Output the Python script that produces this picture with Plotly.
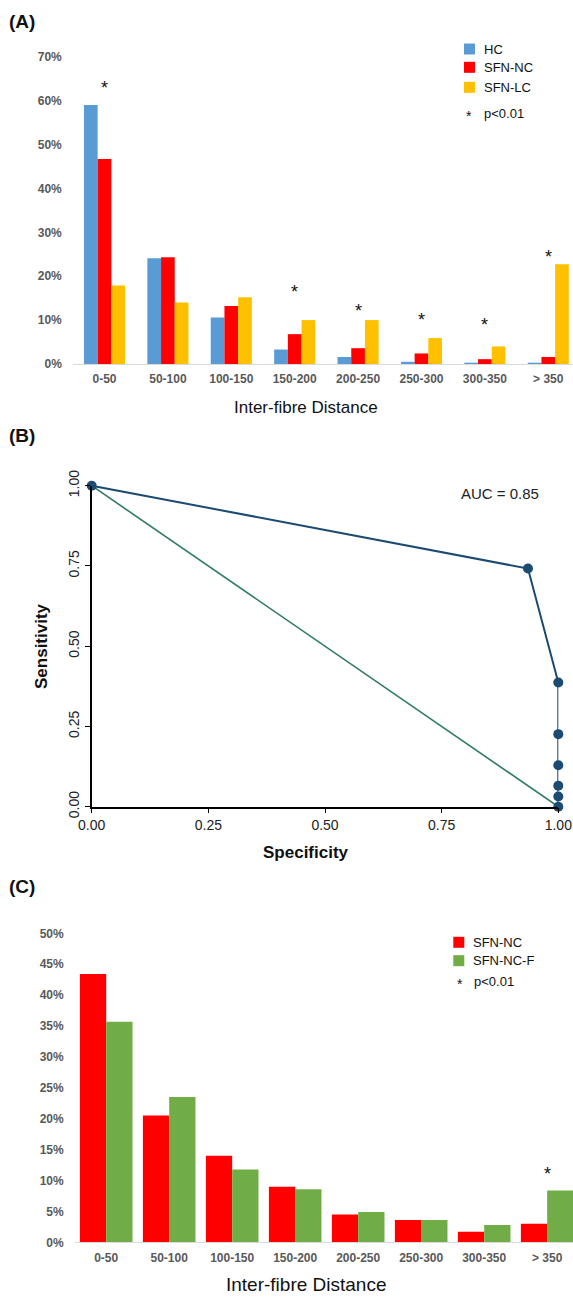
import plotly.graph_objects as go

# ---------------- data ----------------
dist_cats = ["0-50", "50-100", "100-150", "150-200", "200-250", "250-300", "300-350", "> 350"]

a_hc = [0.590, 0.241, 0.106, 0.033, 0.016, 0.005, 0.003, 0.0015]
a_sfn_nc = [0.467, 0.243, 0.132, 0.068, 0.036, 0.024, 0.011, 0.016]
a_sfn_lc = [0.179, 0.140, 0.152, 0.100, 0.100, 0.059, 0.040, 0.227]
a_star_y = [0.641, None, None, 0.175, 0.133, 0.111, 0.100, 0.255]

roc_spec = [0.0, 0.935, 1.0, 1.0, 1.0, 1.0, 1.0, 1.0]
roc_sens = [1.0, 0.742, 0.387, 0.226, 0.129, 0.065, 0.032, 0.0]
ref_spec = [0.0, 1.0]
ref_sens = [1.0, 0.0]
auc_text = "AUC = 0.85"

c_sfn_nc = [0.434, 0.205, 0.140, 0.090, 0.045, 0.036, 0.017, 0.030]
c_sfn_nc_f = [0.357, 0.235, 0.118, 0.086, 0.049, 0.036, 0.028, 0.084]
c_star_y = [None, None, None, None, None, None, None, 0.119]

# ---------------- helpers ----------------
W, H = 573, 1297
def xp(px):
    return px / W
def yp(py):
    return 1 - py / H

FONT = "Arial, Liberation Sans, sans-serif"
GRAY = "#595959"
BLUE = "#5B9BD5"
RED = "#FF0000"
GOLD = "#FFC000"
GREEN = "#70AD47"
NAVY = "#1B4A72"
TEAL = "#2E7A68"

fig = go.Figure()

# Panel A bars
bw_a = 0.216
for vals, name, col, off in [(a_hc, "HC", BLUE, -1.5 * bw_a),
                             (a_sfn_nc, "SFN-NC", RED, -0.5 * bw_a),
                             (a_sfn_lc, "SFN-LC", GOLD, 0.5 * bw_a)]:
    fig.add_trace(go.Bar(x=dist_cats, y=vals, name=name, marker_color=col,
                         width=bw_a, offset=off, xaxis="x", yaxis="y",
                         showlegend=False))

# Panel B ROC
fig.add_trace(go.Scatter(x=ref_spec, y=ref_sens, mode="lines",
                         line=dict(color=TEAL, width=1.6), xaxis="x2", yaxis="y2",
                         showlegend=False, cliponaxis=False))
fig.add_trace(go.Scatter(x=roc_spec, y=roc_sens, mode="lines+markers",
                         line=dict(color=NAVY, width=2),
                         marker=dict(color=NAVY, size=10),
                         xaxis="x2", yaxis="y2", showlegend=False, cliponaxis=False))

# Panel C bars
bw_c = 0.4175
for vals, name, col, off in [(c_sfn_nc, "SFN-NC", RED, -bw_c),
                             (c_sfn_nc_f, "SFN-NC-F", GREEN, 0.0)]:
    fig.add_trace(go.Bar(x=dist_cats, y=vals, name=name, marker_color=col,
                         width=bw_c, offset=off, xaxis="x3", yaxis="y3",
                         showlegend=False))

tickfont_bar = dict(family=FONT, size=12, color=GRAY, weight="bold")
tickfont_roc = dict(family=FONT, size=14, color="#222222")

fig.update_layout(
    template="none",
    width=W, height=H, autosize=False,
    margin=dict(l=0, r=0, t=0, b=0, pad=0, autoexpand=False),
    paper_bgcolor="white", plot_bgcolor="white",
    barmode="overlay",
    font=dict(family=FONT),
    xaxis=dict(domain=[xp(72.8), 1], range=[-0.5, 7.39], type="category",
               automargin=False,
               showgrid=False, showline=True, linecolor="#d9d9d9", linewidth=1,
               ticks="", tickfont=tickfont_bar, ticklabelstandoff=4, anchor="y"),
    yaxis=dict(domain=[yp(364), yp(56.7)], range=[0, 0.70], dtick=0.1,
               automargin=False,
               tickformat=".0%", showgrid=False, zeroline=False, ticks="",
               tickfont=tickfont_bar, ticklabelstandoff=10, anchor="x"),
    xaxis2=dict(domain=[xp(91.7), xp(558.3)], range=[0, 1],
                automargin=False,
                tickvals=[0, 0.25, 0.5, 0.75, 1],
                ticktext=["0.00", "0.25", "0.50", "0.75", "1.00"],
                showgrid=False, zeroline=False, showline=True, linecolor="black",
                linewidth=1.5, ticks="outside", ticklen=5, tickcolor="black",
                tickfont=tickfont_roc, anchor="y2"),
    yaxis2=dict(domain=[yp(806.7), yp(485.7)], range=[0, 1],
                automargin=False,
                tickvals=[0, 0.25, 0.5, 0.75, 1],
                ticktext=["0.00", "0.25", "0.50", "0.75", "1.00"],
                showgrid=False, zeroline=False, showline=True, linecolor="black",
                linewidth=1.5, ticks="outside", ticklen=5, tickcolor="black",
                tickangle=-90, tickfont=tickfont_roc, anchor="x2"),
    xaxis3=dict(domain=[xp(74.7), 1], range=[-0.5, 7.41], type="category",
                automargin=False,
                showgrid=False, showline=True, linecolor="#d9d9d9", linewidth=1,
                ticks="", tickfont=tickfont_bar, ticklabelstandoff=4, anchor="y3"),
    yaxis3=dict(domain=[yp(1242.3), yp(933.3)], range=[0, 0.5], dtick=0.05,
                automargin=False,
                tickformat=".0%", showgrid=False, zeroline=False, ticks="",
                tickfont=tickfont_bar, ticklabelstandoff=10, anchor="x3"),
)

ann = []
shapes = []

def text_px(x, y, s, size, xanchor="left", bold=False, color="#111111", angle=0,
            yanchor="middle"):
    ann.append(dict(x=xp(x), y=yp(y), xref="paper", yref="paper", text=s,
                    showarrow=False, xanchor=xanchor, yanchor=yanchor,
                    textangle=angle,
                    font=dict(family=FONT, size=size, color=color,
                              weight="bold" if bold else "normal")))

# panel labels
text_px(7, 21, "(A)", 19, bold=True)
text_px(7, 436, "(B)", 19, bold=True)
text_px(7, 887, "(C)", 19, bold=True)

# axis titles
text_px(306, 408, "Inter-fibre Distance", 17, xanchor="center")
text_px(306, 852, "Specificity", 17, xanchor="center", bold=True)
text_px(41, 646, "Sensitivity", 17, xanchor="center", bold=True, angle=-90)
text_px(306, 1296.5, "Inter-fibre Distance", 19, xanchor="center", yanchor="bottom")

# AUC text
text_px(459, 494, auc_text, 15, color="#222222")

# legends (manual)
def legend_item(x, y, col, label):
    shapes.append(dict(type="rect", xref="paper", yref="paper",
                       x0=xp(x), x1=xp(x + 11), y0=yp(y + 5.5), y1=yp(y - 5.5),
                       fillcolor=col, line=dict(width=0)))
    text_px(x + 18, y, label, 13)

legend_item(464, 49, BLUE, "HC")
legend_item(464, 67.3, RED, "SFN-NC")
legend_item(464, 87.3, GOLD, "SFN-LC")
text_px(469.5, 116, "*", 14, xanchor="center")
text_px(482, 113.3, "p<0.01", 13)

legend_item(453.3, 942.3, RED, "SFN-NC")
legend_item(453.3, 960.7, GREEN, "SFN-NC-F")
text_px(460, 984, "*", 14, xanchor="center")
text_px(472, 981.7, "p<0.01", 13)

# significance stars
for i, v in enumerate(a_star_y):
    if v is not None:
        ann.append(dict(x=dist_cats[i], y=v, xref="x", yref="y", text="*",
                        showarrow=False, yanchor="middle", yshift=-5,
                        font=dict(family=FONT, size=18, color="#111111")))
for i, v in enumerate(c_star_y):
    if v is not None:
        ann.append(dict(x=dist_cats[i], y=v, xref="x3", yref="y3", text="*",
                        showarrow=False, yanchor="middle", yshift=-5,
                        font=dict(family=FONT, size=18, color="#111111")))

fig.update_layout(annotations=ann, shapes=shapes)

fig.write_html("out.html", config={"displayModeBar": False},
               post_script="document.body.style.margin='0';document.body.style.overflow='hidden';")
